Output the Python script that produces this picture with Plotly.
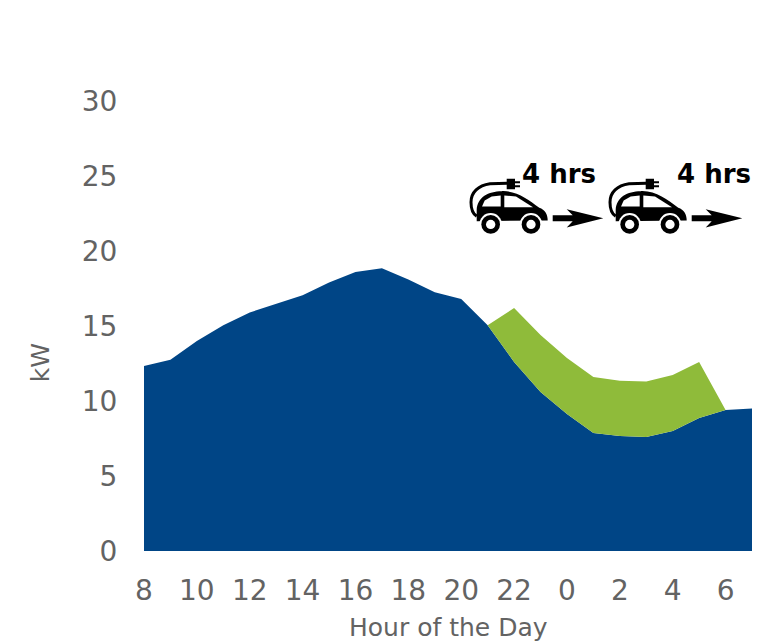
import plotly.graph_objects as go

hours = [8, 9, 10, 11, 12, 13, 14, 15, 16, 17, 18, 19, 20, 21, 22, 23, 0, 1, 2, 3, 4, 5, 6, 7]
base_load = [12.33, 12.75, 14.0, 15.05, 15.9, 16.45, 17.05, 17.9, 18.6, 18.85, 18.1, 17.25,
             16.8, 15.05, 12.6, 10.6, 9.13, 7.87, 7.67, 7.6, 8.0, 8.87, 9.4, 9.5]
charging_load = [0, 0, 0, 0, 0, 0, 0, 0, 0, 0, 0, 0,
                 0, 0, 3.6, 3.8, 3.74, 3.73, 3.68, 3.7, 3.73, 3.73, 0, 0]
shown_hours = hours[::2]
y_ticks = [0, 5, 10, 15, 20, 25, 30]

BLUE = "#004586"
GREEN = "#8fbb3a"
GREY = "#636363"
FONT = "DejaVu Sans"

positions = list(range(len(hours)))

fig = go.Figure()
fig.add_trace(go.Scatter(x=positions, y=base_load, mode="lines", stackgroup="load",
                         line=dict(width=0), fillcolor=BLUE, hoverinfo="skip"))
fig.add_trace(go.Scatter(x=positions, y=charging_load, mode="lines", stackgroup="load",
                         line=dict(width=0), fillcolor=GREEN, hoverinfo="skip"))

# Icon geometry, in pixels from the top-left corner of the first car's box.
PLOT_L, PLOT_T, PLOT_W, PLOT_H = 144, 100.5, 608, 450.5
ICON_X, ICON_Y = 460, 150
STEP = 139


def frac_x(px):
    return (px - PLOT_L) / PLOT_W


def frac_y(py):
    return (PLOT_T + PLOT_H - py) / PLOT_H


def anchor(px, py):
    return dict(xref="paper", yref="paper", xsizemode="pixel", ysizemode="pixel",
                xanchor=frac_x(px), yanchor=frac_y(py))


def poly(points):
    head = "M{:.1f},{:.1f}".format(points[0][0] / 3, -points[0][1] / 3)
    tail = "".join(" L{:.1f},{:.1f}".format(x / 3, -y / 3) for x, y in points[1:])
    return head + tail + " Z"


def curve(segments):
    out = []
    for cmd, pts in segments:
        out.append(cmd + " ".join("{:.1f},{:.1f}".format(x / 3, -y / 3) for x, y in pts))
    return " ".join(out)


def disc(cx, cy, r, color):
    return dict(type="circle", x0=(cx - r) / 3, x1=(cx + r) / 3, y0=-(cy - r) / 3, y1=-(cy + r) / 3,
                fillcolor=color, line=dict(width=0), layer="above")


body = curve([("M", [(50, 212)]), ("L", [(50, 178)]),
              ("C", [(52, 140), (85, 122), (125, 122)]),
              ("C", [(170, 120), (205, 148), (238, 172)]),
              ("C", [(255, 178), (263, 192), (263, 210)]),
              ("L", [(50, 212)])]) + " Z"
rear_window = poly([(66, 168), (74, 150), (95, 138), (122, 135), (122, 168)])
front_window = poly([(133, 135), (168, 138), (219, 170), (133, 170)])
cable = curve([("M", [(142, 98)]), ("L", [(90, 100)]),
               ("C", [(55, 105), (33, 125), (33, 155)]),
               ("C", [(33, 175), (38, 190), (50, 197)])])
plug = poly([(140, 85), (165, 85), (165, 92), (180, 92), (180, 98), (165, 98), (165, 104),
             (180, 104), (180, 110), (165, 110), (165, 116), (140, 116)])
arrow = poly([(278, 194), (338, 194), (320, 176), (430, 203), (320, 231), (338, 212), (278, 212)])

shapes = []
for k in range(2):
    pos = anchor(ICON_X + k * STEP, ICON_Y)
    shapes.append(dict(type="path", path=cable, line=dict(color="black", width=3),
                       fillcolor="rgba(0,0,0,0)", layer="above", **pos))
    for path, color in [(plug, "black"), (body, "black"), (rear_window, "white"),
                        (front_window, "white"), (arrow, "black")]:
        shapes.append(dict(type="path", path=path, fillcolor=color, line=dict(width=0),
                           layer="above", **pos))
    for cx in (92, 213):
        for r, color in [(34, "white"), (28, "black"), (14, "white")]:
            shapes.append({**disc(cx, 222, r, color), **pos})

labels = [dict(text="4 hrs", xref="paper", yref="paper",
               x=frac_x(px), y=frac_y(174),
               xanchor="center", yanchor="middle", showarrow=False,
               font=dict(family=FONT, size=26, color="black", weight="bold"))
          for px in (559, 714)]
labels.append(dict(text="Hour of the Day", xref="paper", yref="paper", x=frac_x(448), y=frac_y(628),
                   xanchor="center", yanchor="middle", showarrow=False,
                   font=dict(family=FONT, size=25, color=GREY)))
labels.append(dict(text="kW", xref="paper", yref="paper", x=frac_x(40), y=frac_y(363),
                   xanchor="center", yanchor="middle", showarrow=False, textangle=-90,
                   font=dict(family=FONT, size=25, color=GREY)))

fig.update_layout(
    width=774, height=642,
    margin=dict(l=PLOT_L, r=774 - PLOT_L - PLOT_W, t=PLOT_T, b=642 - PLOT_T - PLOT_H, pad=0),
    paper_bgcolor="white", plot_bgcolor="white", showlegend=False,
    font=dict(family=FONT, color=GREY),
    shapes=shapes, annotations=labels,
    xaxis=dict(range=[0, 23], tickmode="array", tickvals=positions[::2], automargin=False,
               ticktext=[str(h) for h in shown_hours], showgrid=False, zeroline=False,
               showline=False, ticks="outside", ticklen=14, tickcolor="rgba(0,0,0,0)",
               tickfont=dict(family=FONT, size=28, color=GREY)),
    yaxis=dict(range=[0, 30], tickmode="array", tickvals=y_ticks, showgrid=False, zeroline=False,
               showline=False, ticks="outside", ticklen=20, automargin=False,
               tickcolor="rgba(0,0,0,0)",
               tickfont=dict(family=FONT, size=28, color=GREY)),
)

fig.write_html("out.html", config=dict(displayModeBar=False))
